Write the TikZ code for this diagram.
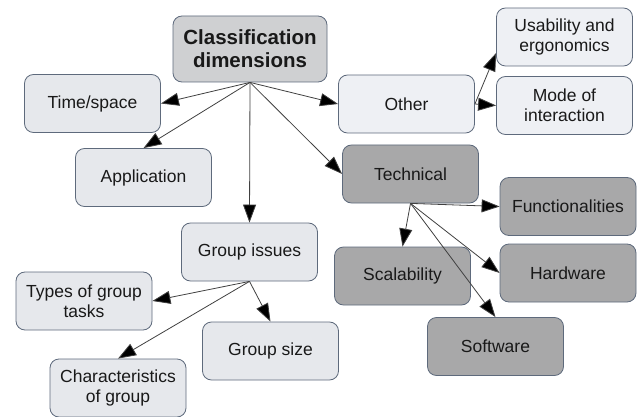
\documentclass[tikz,border=0pt]{standalone}
\usepackage{fontspec}
\setmainfont{Liberation Sans}
\usepackage{xcolor}
\usetikzlibrary{positioning, arrows.meta}

\definecolor{boxline}{HTML}{5E6A7C}
\definecolor{lightfill}{HTML}{E6E8EC}
\definecolor{palefill}{HTML}{EEF0F4}
\definecolor{darkfill}{HTML}{A8A8A9}
\definecolor{rootfill}{HTML}{CFD0D2}

\tikzset{
    dimbox/.style={draw=boxline, line width=0.8pt, rounded corners=9pt, align=center,
        text=black!90, minimum width=136pt, minimum height=58pt,
        font=\fontsize{17.5}{20}\selectfont},
    lightbox/.style={dimbox, fill=lightfill},
    palebox/.style={dimbox, fill=palefill},
    darkbox/.style={dimbox, fill=darkfill},
    rootbox/.style={dimbox, fill=rootfill, minimum width=154pt, minimum height=66pt,
        font=\fontsize{20.5}{23}\selectfont\bfseries},
    link/.style={draw=black!75, line width=0.8pt, -{Triangle[length=18pt,width=13pt,fill=black]}}
}

\begin{document}
\begin{tikzpicture}[x=1pt, y=-1pt]
        \useasboundingbox (0,0) rectangle (637,417);
        \node[rootbox] (root) at (250,49) {Classification\\dimensions};
        \node[lightbox] (time) at (92.5,103.5) {Time/space};
        \node[lightbox] (app) at (143.5,177.5) {Application};
        \node[lightbox] (grp) at (249.5,252) {Group issues};
        \node[lightbox] (types) at (84,301) {Types of group\\tasks};
        \node[lightbox] (size) at (270.5,351) {Group size};
        \node[lightbox] (chars) at (118,388) {Characteristics\\of group};
        \begin{scope}
            \node[palebox] (other) at (406.5,104) {Other};
            \node[palebox] (usab) at (564.5,37) {Usability and\\ergonomics};
            \node[palebox] (mode) at (564.5,105.5) {Mode of\\interaction};
        \end{scope}
        \begin{scope}
            \node[darkbox] (tech) at (410.5,174) {Technical};
            \node[darkbox] (func) at (568,206.5) {Functionalities};
            \node[darkbox] (hard) at (568,273) {Hardware};
            \node[darkbox] (scal) at (402.5,276) {Scalability};
            \node[darkbox] (soft) at (495.5,346.5) {Software};
        \end{scope}
        \draw[link] (root.south) -- (time.east);
        \draw[link] (root.south) -- (app.north);
        \draw[link] (root.south) -- (grp.north);
        \draw[link] (root.south) -- (other.west);
        \draw[link] (root.south) -- (tech.west);
        \draw[link] (other.east) -- ([yshift=-16pt]usab.west);
        \draw[link] (other.east) -- (mode.west);
        \draw[link] (tech.south) -- (func.west);
        \draw[link] (tech.south) -- (scal.north);
        \draw[link] (tech.south) -- (hard.west);
        \draw[link] (tech.south) -- (soft.north);
        \draw[link] (grp.south) -- (types.east);
        \draw[link] (grp.south) -- (size.north);
        \draw[link] (grp.south) -- (chars.north);
    \end{tikzpicture}
\end{document}
